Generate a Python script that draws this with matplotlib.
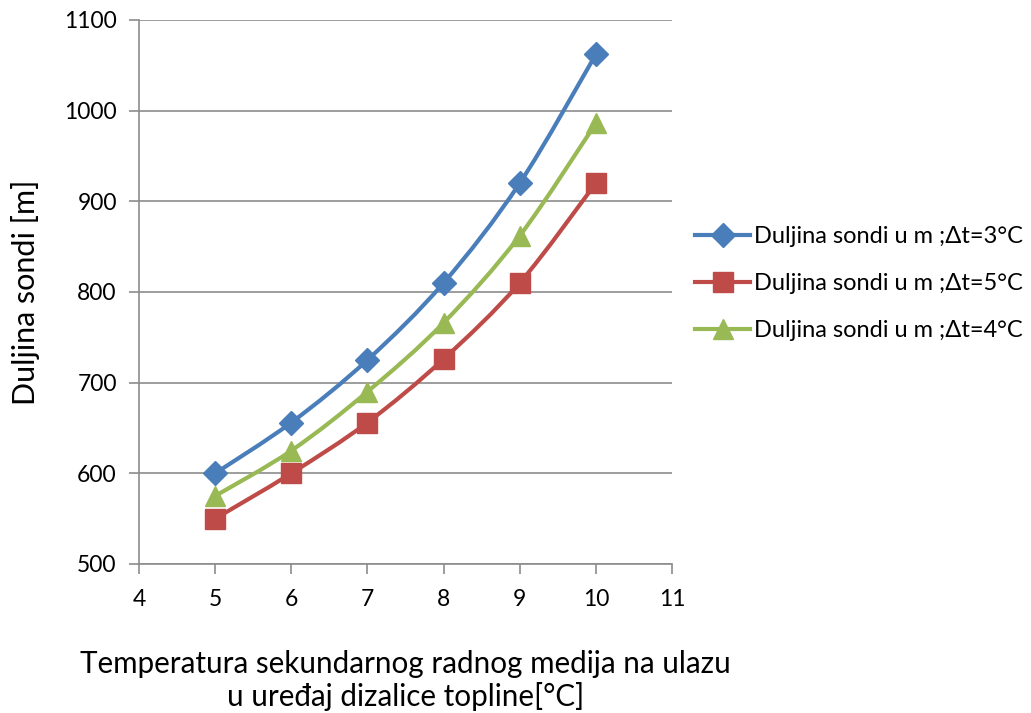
import matplotlib
matplotlib.use('Agg')
import matplotlib.pyplot as plt
from matplotlib.path import Path
from matplotlib.patches import PathPatch
from matplotlib.lines import Line2D
import numpy as np

plt.rcParams['font.family'] = ['Lato', 'DejaVu Sans']

temperatura = [5, 6, 7, 8, 9, 10]
dt3 = [600, 656, 725, 810, 920, 1062]
dt5 = [550, 600, 656, 726, 810, 920]
dt4 = [575, 625, 690, 766, 862, 986]

labels = ['Duljina sondi u m ;\u0394t=3\u00b0C',
          'Duljina sondi u m ;\u0394t=5\u00b0C',
          'Duljina sondi u m ;\u0394t=4\u00b0C']

blue = '#4a7ebb'
red = '#be4b48'
green = '#98b954'
grid_c = '#8c8c8c'


def smooth_path(xs, ys):
    # bezier through points, like the excel "smoothed line" option
    p = np.column_stack([xs, ys]).astype(float)
    ext = np.vstack([p[0], p, p[-1]])
    verts = [p[0]]
    codes = [Path.MOVETO]
    for i in range(len(p) - 1):
        c1 = ext[i + 1] + (ext[i + 2] - ext[i]) / 6
        c2 = ext[i + 2] - (ext[i + 3] - ext[i + 1]) / 6
        verts += [c1, c2, p[i + 1]]
        codes += [Path.CURVE4] * 3
    return Path(verts, codes)


fig = plt.figure(figsize=(10.31, 7.13), dpi=100)
ax = fig.add_axes([0.1348, 0.209, 0.517, 0.763])

series = [(dt3, blue, 'D', 12), (dt5, red, 's', 15), (dt4, green, '^', 14.5)]
handles = []
for (vals, col, mk, ms), lab in zip(series, labels):
    ax.add_patch(PathPatch(smooth_path(temperatura, vals), fc='none',
                           ec=col, lw=3, zorder=3))
    ax.plot(temperatura, vals, ls='none', marker=mk, ms=ms, color=col,
            zorder=4)
    handles.append(Line2D([], [], color=col, lw=3, marker=mk, ms=ms))

ax.set_xlim(4, 11)
ax.set_ylim(500, 1100)
ax.set_xticks(range(4, 12))
ax.set_yticks(range(500, 1101, 100))
ax.grid(axis='y', color=grid_c, lw=1.2)
ax.set_axisbelow(True)
for s in ['top', 'right']:
    ax.spines[s].set_visible(False)
for s in ['left', 'bottom']:
    ax.spines[s].set_color(grid_c)
    ax.spines[s].set_linewidth(1.2)
ax.tick_params(colors=grid_c, labelcolor='black', labelsize=16.5,
               length=7, width=1.2)
ax.tick_params(axis='x', pad=11)
ax.tick_params(axis='y', pad=9)

ax.set_ylabel('Duljina sondi [m]', fontsize=22, labelpad=17)
ax.set_xlabel('Temperatura sekundarnog radnog medija na ulazu\n'
              'u ure\u0111aj dizalice topline[\u00b0C]', fontsize=21.3,
              labelpad=29, linespacing=1.15)

ax.legend(handles, labels, loc='center left', bbox_to_anchor=(1.0255, 0.515),
          borderaxespad=0, frameon=False, fontsize=17, handlelength=2.33,
          handletextpad=0.17, labelspacing=1.1)

fig.savefig('out.png', dpi=100)
